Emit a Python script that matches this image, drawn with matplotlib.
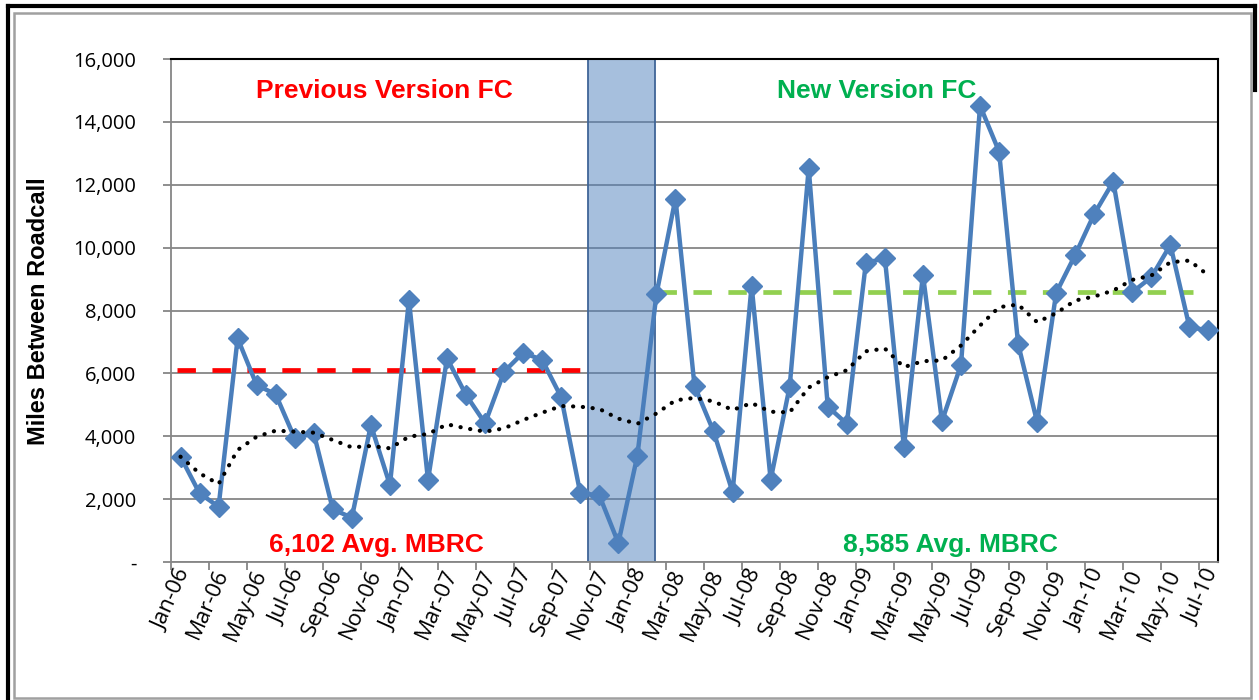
import matplotlib
matplotlib.use("Agg")
import matplotlib.pyplot as plt
from matplotlib.patches import Rectangle
from matplotlib.lines import Line2D
from matplotlib.ticker import FuncFormatter

# monthly Miles Between Roadcall, Jan-06 .. Jul-10
months = ["Jan", "Feb", "Mar", "Apr", "May", "Jun",
          "Jul", "Aug", "Sep", "Oct", "Nov", "Dec"]
labels = []
for yr in ["06", "07", "08", "09", "10"]:
    for m in months:
        labels.append(m + "-" + yr)
labels = labels[:55]

mbrc = [3350, 2185, 1760, 7115, 5630, 5333, 3934, 4093, 1675, 1410, 4358, 2449,
        8334, 2608, 6479, 5312, 4411, 6054, 6659, 6426, 5238, 2185, 2120, 604,
        3385, 8516, 11560, 5604, 4154, 2220, 8791, 2615, 5582, 12527, 4945, 4396,
        9505, 9670, 3656, 9134, 4482, 6273, 14517, 13054, 6940, 4450, 8561, 9770,
        11073, 12100, 8583, 9060, 10087, 7470, 7364]

# dotted trend line
trend = [3350, 2821, 2481, 3563, 3986, 4178, 4146, 4114, 3881, 3648, 3690, 3616,
         3987, 4072, 4380, 4252, 4146, 4252, 4517, 4750, 4962, 4941, 4870, 4560,
         4396, 4725, 5143, 5220, 5110, 4835, 5055, 4780, 4760, 5549, 5879, 6099,
         6703, 6791, 6199, 6389, 6411, 6887, 7523, 8106, 8190, 7629, 7915, 8318,
         8445, 8636, 8975, 9113, 9536, 9589, 9113]

prev_avg = 6102
new_avg = 8585
prev_span = (-0.2, 21.0)
new_span = (25.1, 53.2)
shade_span = (21.4, 24.92)

x = list(range(len(mbrc)))

fig = plt.figure(figsize=(12.59, 7), dpi=100)
ax = fig.add_axes([171 / 1259, 138 / 700, 1047 / 1259, 503 / 700])

grey = "#868686"
ax.set_axisbelow(True)
ax.yaxis.grid(True, color=grey, lw=1.3, zorder=0.5)

ax.axvspan(shade_span[0], shade_span[1], facecolor="#4F81BD", alpha=0.5,
           edgecolor="none", zorder=1)
ax.axvspan(shade_span[0], shade_span[1], facecolor="none",
           edgecolor="#3F6597", lw=1.3, zorder=1.1)

ax.plot(prev_span, [prev_avg, prev_avg], color="#FF0000", lw=3.4,
        dashes=(3.9, 3.5), zorder=2)
ax.plot(new_span, [new_avg, new_avg], color="#92D050", lw=3.4,
        dashes=(3.9, 3.5), zorder=2)

ax.plot(x, mbrc, color="#4A7EBB", lw=3.2, marker="D", markersize=10,
        markerfacecolor="#4F81BD", markeredgecolor="#4F81BD", zorder=3)
ax.plot(x, trend, color="black", lw=3.0, dashes=(0.05, 2.3),
        dash_capstyle="round", zorder=4)

ax.set_xlim(-0.5, len(mbrc) - 0.5)
ax.set_ylim(0, 16000)
ax.set_yticks(range(0, 16001, 2000))
ax.yaxis.set_major_formatter(FuncFormatter(
    lambda v, p: "-" if v == 0 else "{:,.0f}".format(v)))

ax.set_xticks([i - 0.5 for i in range(0, 56, 2)])
ax.set_xticklabels([])
ax.set_xticks([i + 0.25 for i in x[::2]], minor=True)
ax.set_xticklabels(labels[::2], minor=True, rotation=66, ha="right",
                   va="center", rotation_mode="anchor",
                   fontfamily="Open Sans", fontsize=16)
ax.tick_params(axis="x", which="minor", length=0, pad=6)
ax.tick_params(axis="x", which="major", length=6, width=1.3, color=grey,
               direction="out")
ax.tick_params(axis="y", length=6, width=1.3, color=grey, pad=19,
               labelsize=14.5)
for t in ax.get_yticklabels():
    t.set_fontfamily("Open Sans")

for s in ["left", "bottom"]:
    ax.spines[s].set_color(grey)
    ax.spines[s].set_linewidth(1.3)
for s in ["top", "right"]:
    ax.spines[s].set_color("black")
    ax.spines[s].set_linewidth(1.5)

ax.set_ylabel("Miles Between Roadcall", fontfamily="Liberation Sans",
              fontweight="bold", fontsize=17, va="center")
ax.yaxis.set_label_coords((39 - 171) / 1047, (562 - 311) / 503)

bold = dict(fontfamily="Liberation Sans", fontweight="bold", fontsize=19,
            ha="center", va="center")
ax.text(10.69, 14980, "Previous Version FC", color="#FF0000", **bold)
ax.text(36.58, 14980, "New Version FC", color="#00B050", **bold)
ax.text(10.27, 540, "6,102 Avg. MBRC", color="#FF0000", **bold)
ax.text(40.47, 540, "8,585 Avg. MBRC", color="#00B050", **bold)

# outer frame of the picture
W, H = 1259.0, 700.0
fig.add_artist(Line2D([8 / W, 8 / W], [0, 1 - 6 / H], color="black", lw=3,
                      transform=fig.transFigure))
fig.add_artist(Line2D([8 / W, 1255 / W], [1 - 6 / H, 1 - 6 / H],
                      color="black", lw=3, transform=fig.transFigure))
fig.add_artist(Line2D([1255 / W, 1255 / W], [1 - 6 / H, 1 - 90 / H],
                      color="black", lw=3, transform=fig.transFigure))
fig.add_artist(Rectangle((14 / W, 2 / H), (1251 - 14) / W, (698 - 13) / H,
                         fill=False, edgecolor="#A0A0A0", lw=1.8,
                         transform=fig.transFigure))

fig.savefig("out.png", dpi=100)
